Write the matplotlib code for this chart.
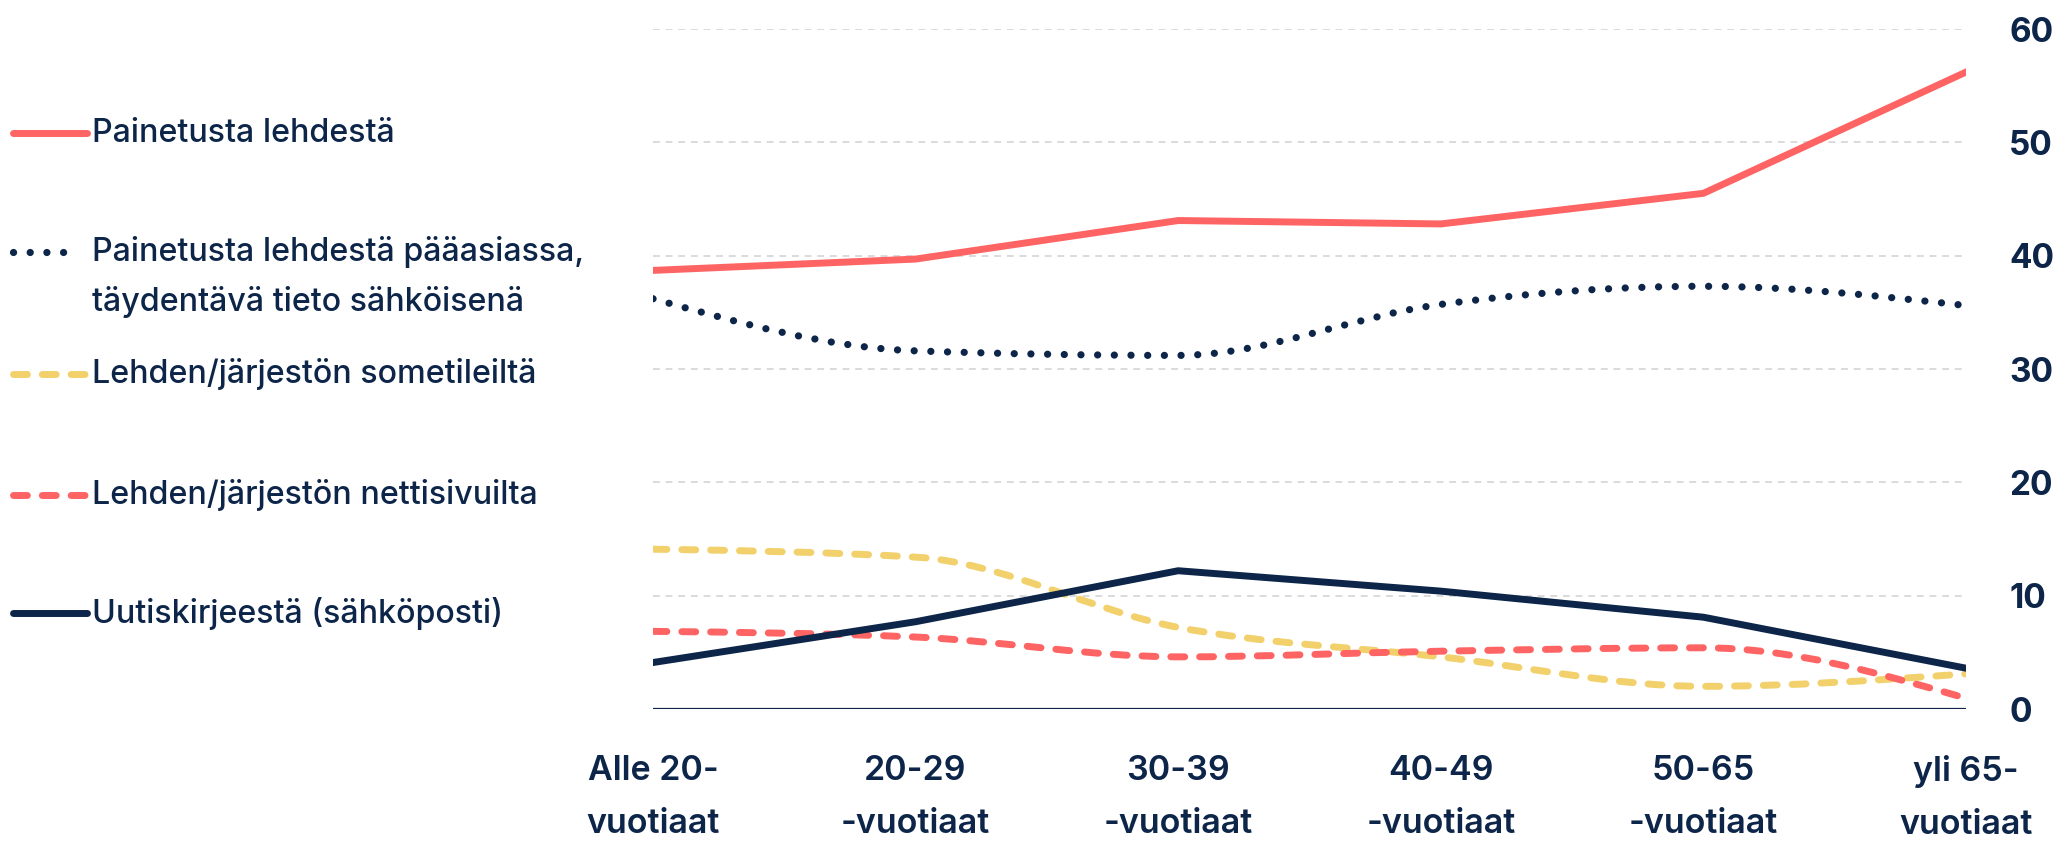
import numpy as np
import matplotlib
matplotlib.use("Agg")
import matplotlib.pyplot as plt
from matplotlib.path import Path
from matplotlib.patches import PathPatch
from matplotlib.lines import Line2D

categories = ["Alle 20-\nvuotiaat", "20-29\n-vuotiaat", "30-39\n-vuotiaat",
              "40-49\n-vuotiaat", "50-65\n-vuotiaat", "yli 65-\nvuotiaat"]
painettu = [38.7, 39.7, 43.1, 42.8, 45.5, 56.2]
painettu_sahkoinen = [36.2, 31.6, 31.2, 35.7, 37.3, 35.6]
somesta = [14.1, 13.4, 7.2, 4.6, 2.0, 3.1]
nettisivuilta = [6.85, 6.35, 4.6, 5.1, 5.4, 0.95]
uutiskirje = [4.1, 7.7, 12.2, 10.4, 8.1, 3.6]
y_ticks = [0, 10, 20, 30, 40, 50, 60]

labels = ["Painetusta lehdestä",
          "Painetusta lehdestä pääasiassa,\ntäydentävä tieto sähköisenä",
          "Lehden/järjestön sometileiltä",
          "Lehden/järjestön nettisivuilta",
          "Uutiskirjeestä (sähköposti)"]

RED = "#ff6464"
YELLOW = "#f2d06b"
NAVY = "#0c2548"
GRID = "#dadada"
FONT = ["Inter", "DejaVu Sans"]

W, H = 2059, 841


def monotone_path(x, y):
    # same curve shape as d3 curveMonotoneX
    x = np.asarray(x, float)
    y = np.asarray(y, float)
    n = len(x)
    h = np.diff(x)
    s = np.diff(y) / h
    t = np.zeros(n)
    sg = lambda v: -1.0 if v < 0 else 1.0
    for i in range(1, n - 1):
        p = (s[i - 1] * h[i] + s[i] * h[i - 1]) / (h[i - 1] + h[i])
        t[i] = (sg(s[i - 1]) + sg(s[i])) * min(abs(s[i - 1]), abs(s[i]), 0.5 * abs(p))
    t[0] = (3 * s[0] - t[1]) / 2
    t[-1] = (3 * s[-1] - t[-2]) / 2
    verts = [(x[0], y[0])]
    codes = [Path.MOVETO]
    for i in range(n - 1):
        dx = (x[i + 1] - x[i]) / 3
        verts += [(x[i] + dx, y[i] + dx * t[i]),
                  (x[i + 1] - dx, y[i + 1] - dx * t[i + 1]),
                  (x[i + 1], y[i + 1])]
        codes += [Path.CURVE4] * 3
    return Path(verts, codes)


fig = plt.figure(figsize=(W / 100, H / 100), dpi=100)
ax = fig.add_axes([653 / W, 1 - 709 / H, (1966 - 653) / W, (709 - 29) / H])

xs = np.arange(len(categories))
LW = 5

ax.plot(xs, painettu, color=RED, lw=LW, solid_joinstyle="round", zorder=5)
ax.plot(xs, uutiskirje, color=NAVY, lw=LW, solid_joinstyle="round", zorder=5)

dotted = (0, (0.01, 2.3))
dashed = (0, (2.0, 2.15))
for vals, col, ls, lw in [(painettu_sahkoinen, NAVY, dotted, 5.2),
                          (somesta, YELLOW, dashed, LW),
                          (nettisivuilta, RED, dashed, LW)]:
    patch = PathPatch(monotone_path(xs, vals), fill=False, edgecolor=col,
                      lw=lw, linestyle=ls, capstyle="round", joinstyle="round", zorder=4)
    ax.add_patch(patch)

ax.axhline(0, color=NAVY, lw=1.6, zorder=3)
ax.set_xlim(0, len(categories) - 1)
ax.set_ylim(0, 60)
ax.set_yticks(y_ticks)
ax.grid(axis="y", color=GRID, lw=1.4, linestyle=(0, (3.5, 3)), zorder=0)
for sp in ax.spines.values():
    sp.set_visible(False)

ax.yaxis.tick_right()
ax.tick_params(axis="y", length=0, pad=31, labelsize=24, labelcolor=NAVY)
ax.set_xticks(xs)
ax.set_xticklabels(categories, linespacing=1.85)
ax.tick_params(axis="x", length=0, pad=33, labelsize=24.5, labelcolor=NAVY)
for lab in ax.get_yticklabels():
    lab.set_fontfamily(FONT)
    lab.set_fontweight("bold")
for lab in ax.get_xticklabels():
    lab.set_fontfamily(FONT)
    lab.set_fontweight("semibold")

# legend drawn by hand on the left
legend_styles = [(RED, "-", LW, 87), (NAVY, dotted, 5.2, 76), (YELLOW, dashed, LW, 87),
                 (RED, dashed, LW, 87), (NAVY, "-", LW, 87)]
legend_y = [133, 252, 374, 495, 613]
for (col, ls, lw, x1), yy, lab in zip(legend_styles, legend_y, labels):
    fy = 1 - yy / H
    ln = Line2D([13 / W, x1 / W], [fy, fy], transform=fig.transFigure, color=col,
                lw=lw, linestyle=ls, solid_capstyle="round", dash_capstyle="round")
    fig.add_artist(ln)
    for k, part in enumerate(lab.split("\n")):
        fig.text(92 / W, 1 - (yy + 50 * k) / H, part, fontsize=23.2, color=NAVY,
                 family=FONT, fontweight="medium", va="center", ha="left")

fig.savefig("out.png", dpi=100, facecolor="white")
